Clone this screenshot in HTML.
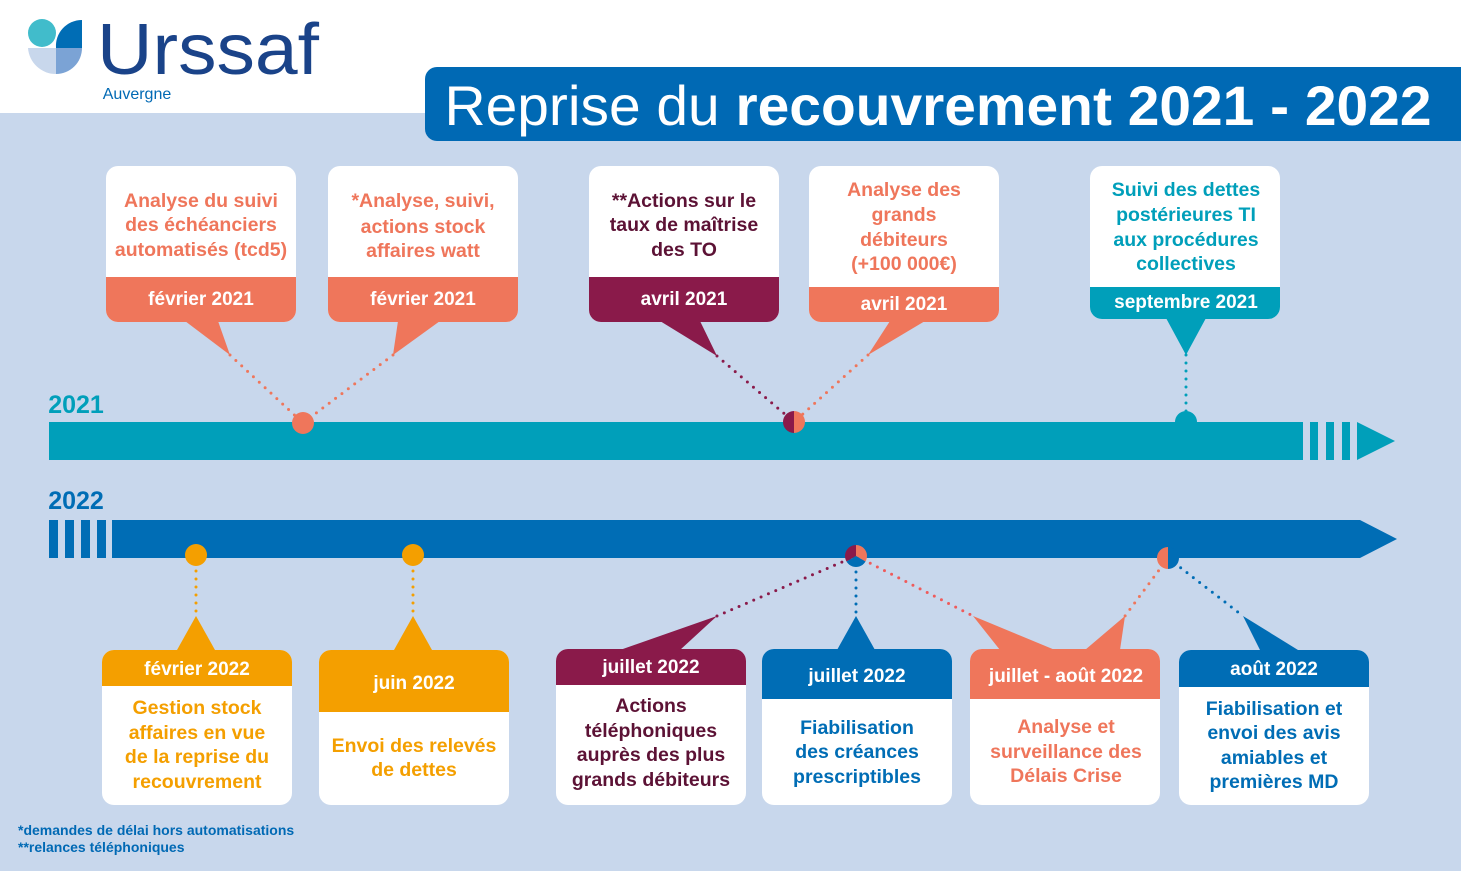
<!DOCTYPE html>
<html><head><meta charset="utf-8"><style>
html,body{margin:0;padding:0;background:#fff}
svg{display:block}
text{font-family:"Liberation Sans",Arial,sans-serif;font-weight:bold;text-anchor:middle}
</style></head><body>
<svg width="1461" height="871" viewBox="0 0 1461 871" xmlns="http://www.w3.org/2000/svg">
<rect x="0" y="0" width="1461" height="871" fill="#fff"/>
<rect x="0" y="113" width="1461" height="758" fill="#c8d7ec"/>
<!-- logo -->
<circle cx="42" cy="33" r="14" fill="#41bccb"/>
<path d="M56 48 A26 26 0 0 1 82 20 L82 48 Z" fill="#006db5"/>
<path d="M28 48 L56 48 L56 74 A28 28 0 0 1 28 48 Z" fill="#c8d7ec"/>
<path d="M56 48 L82 48 A26 26 0 0 1 56 74 Z" fill="#7ba3d5"/>
<text x="208" y="74" textLength="222" lengthAdjust="spacingAndGlyphs" style="font-weight:normal;font-size:72px;fill:#1a4389">Urssaf</text>
<text x="137" y="99" style="font-size:16px;fill:#0069b4;font-weight:normal">Auvergne</text>
<!-- banner -->
<path d="M437 67 H1461 V141 H437 A12 12 0 0 1 425 129 V79 A12 12 0 0 1 437 67 Z" fill="#0069b4"/>
<text x="938" y="125" textLength="987" lengthAdjust="spacingAndGlyphs" style="font-size:56px;fill:#fff"><tspan style="font-weight:normal">Reprise du </tspan>recouvrement 2021 - 2022</text>
<!-- years -->
<text x="76" y="413" style="font-size:25px;fill:#009fba">2021</text>
<text x="76" y="509" style="font-size:25px;fill:#006db5">2022</text>
<!-- 2021 bar -->
<rect x="49" y="422" width="1254" height="38" fill="#009fba"/>
<rect x="1310" y="422" width="8" height="38" fill="#009fba"/>
<rect x="1326" y="422" width="8" height="38" fill="#009fba"/>
<rect x="1342" y="422" width="8" height="38" fill="#009fba"/>
<polygon points="1357,422 1395,441 1357,460" fill="#009fba"/>
<circle cx="1186" cy="422" r="11" fill="#009fba"/>
<!-- 2022 bar -->
<rect x="49" y="520" width="9" height="38" fill="#006db5"/>
<rect x="65" y="520" width="9" height="38" fill="#006db5"/>
<rect x="81" y="520" width="9" height="38" fill="#006db5"/>
<rect x="97" y="520" width="9" height="38" fill="#006db5"/>
<path d="M112 520 H1360 L1397 539 L1360 558 H112 Z" fill="#006db5"/>
<!-- dotted connectors -->
<g fill="none" stroke-width="3" stroke-linecap="round" stroke-dasharray="0 8">
<line x1="230" y1="355" x2="303" y2="423" stroke="#ef765b"/>
<line x1="393" y1="355" x2="303" y2="423" stroke="#ef765b"/>
<line x1="717" y1="356" x2="794" y2="422" stroke="#8a1a4a"/>
<line x1="868" y1="355" x2="794" y2="422" stroke="#ef765b"/>
<line x1="1186" y1="355" x2="1186" y2="418" stroke="#009fba"/>
<line x1="196" y1="555" x2="196" y2="616" stroke="#f49f00"/>
<line x1="413" y1="555" x2="413" y2="616" stroke="#f49f00"/>
<line x1="717" y1="616" x2="856" y2="556" stroke="#8a1a4a"/>
<line x1="856" y1="556" x2="856" y2="616" stroke="#006db5"/>
<line x1="856" y1="556" x2="973" y2="616" stroke="#ef5b5b"/>
<line x1="1168" y1="558" x2="1125" y2="616" stroke="#ef765b"/>
<line x1="1168" y1="558" x2="1243" y2="616" stroke="#006db5"/>
</g>
<!-- dots -->
<circle cx="303" cy="423" r="11" fill="#ef765b"/>
<path d="M794 411 A11 11 0 0 0 794 433 Z" fill="#8a1a4a"/>
<path d="M794 411 A11 11 0 0 1 794 433 Z" fill="#ef765b"/>
<circle cx="196" cy="555" r="11" fill="#f49f00"/>
<circle cx="413" cy="555" r="11" fill="#f49f00"/>
<path d="M856 556 L856 545 A11 11 0 0 0 846.5 561.5 Z" fill="#8a1a4a"/>
<path d="M856 556 L856 545 A11 11 0 0 1 865.5 561.5 Z" fill="#ef765b"/>
<path d="M856 556 L846.5 561.5 A11 11 0 0 0 865.5 561.5 Z" fill="#006db5"/>
<path d="M1168 547 A11 11 0 0 0 1168 569 Z" fill="#ef765b"/>
<path d="M1168 547 A11 11 0 0 1 1168 569 Z" fill="#006db5"/>
<!-- top pointers -->
<polygon points="185,321 218,321 230,355" fill="#ef765b"/>
<polygon points="398,321 440,321 393,355" fill="#ef765b"/>
<polygon points="660,321 700,321 717,356" fill="#8a1a4a"/>
<polygon points="890,321 925,321 868,355" fill="#ef765b"/>
<polygon points="1166,318 1206,318 1186,355" fill="#009fba"/>
<!-- bottom pointers -->
<polygon points="177,650 215,650 196,616" fill="#f49f00"/>
<polygon points="394,650 432,650 413,616" fill="#f49f00"/>
<polygon points="620,650 680,650 717,616" fill="#8a1a4a"/>
<polygon points="837,650 875,650 856,616" fill="#006db5"/>
<polygon points="1000,650 1055,650 973,616" fill="#ef765b"/>
<polygon points="1085,650 1120,650 1125,616" fill="#ef765b"/>
<polygon points="1260,650 1298,650 1243,616" fill="#006db5"/>
<!-- top cards -->
<g>
<rect x="106" y="166" width="190" height="156" rx="12" fill="#fff"/>
<path d="M106 277 H296 V310 A12 12 0 0 1 284 322 H118 A12 12 0 0 1 106 310 Z" fill="#ef765b"/>
<g style="font-size:19.5px;fill:#ef765b"><text x="201" y="207">Analyse du suivi</text><text x="201" y="231">des échéanciers</text><text x="201" y="256">automatisés (tcd5)</text></g>
<text x="201" y="305" style="font-size:19px;fill:#fff">février 2021</text>

<rect x="328" y="166" width="190" height="156" rx="12" fill="#fff"/>
<path d="M328 277 H518 V310 A12 12 0 0 1 506 322 H340 A12 12 0 0 1 328 310 Z" fill="#ef765b"/>
<g style="font-size:19.5px;fill:#ef765b"><text x="423" y="207">*Analyse, suivi,</text><text x="423" y="233">actions stock</text><text x="423" y="257">affaires watt</text></g>
<text x="423" y="305" style="font-size:19px;fill:#fff">février 2021</text>

<rect x="589" y="166" width="190" height="156" rx="12" fill="#fff"/>
<path d="M589 277 H779 V310 A12 12 0 0 1 767 322 H601 A12 12 0 0 1 589 310 Z" fill="#8a1a4a"/>
<g style="font-size:19.5px;fill:#5c1235"><text x="684" y="207">**Actions sur le</text><text x="684" y="231">taux de maîtrise</text><text x="684" y="256">des TO</text></g>
<text x="684" y="305" style="font-size:19px;fill:#fff">avril 2021</text>

<rect x="809" y="166" width="190" height="156" rx="12" fill="#fff"/>
<path d="M809 287 H999 V310 A12 12 0 0 1 987 322 H821 A12 12 0 0 1 809 310 Z" fill="#ef765b"/>
<g style="font-size:19.5px;fill:#ef765b"><text x="904" y="196">Analyse des</text><text x="904" y="221">grands</text><text x="904" y="246">débiteurs</text><text x="904" y="270">(+100 000€)</text></g>
<text x="904" y="310" style="font-size:19px;fill:#fff">avril 2021</text>

<rect x="1090" y="166" width="190" height="153" rx="12" fill="#fff"/>
<path d="M1090 287 H1280 V307 A12 12 0 0 1 1268 319 H1102 A12 12 0 0 1 1090 307 Z" fill="#009fba"/>
<g style="font-size:19.5px;fill:#009fba"><text x="1186" y="196">Suivi des dettes</text><text x="1186" y="221">postérieures TI</text><text x="1186" y="246">aux procédures</text><text x="1186" y="270">collectives</text></g>
<text x="1186" y="308" style="font-size:19px;fill:#fff">septembre 2021</text>
</g>
<!-- bottom cards -->
<g>
<rect x="102" y="650" width="190" height="155" rx="12" fill="#fff"/>
<path d="M114 650 H280 A12 12 0 0 1 292 662 V686 H102 V662 A12 12 0 0 1 114 650 Z" fill="#f49f00"/>
<text x="197" y="675" style="font-size:19px;fill:#fff">février 2022</text>
<g style="font-size:19.5px;fill:#f49f00"><text x="197" y="714">Gestion stock</text><text x="197" y="739">affaires en vue</text><text x="197" y="763">de la reprise du</text><text x="197" y="788">recouvrement</text></g>

<rect x="319" y="650" width="190" height="155" rx="12" fill="#fff"/>
<path d="M331 650 H497 A12 12 0 0 1 509 662 V712 H319 V662 A12 12 0 0 1 331 650 Z" fill="#f49f00"/>
<text x="414" y="689" style="font-size:19px;fill:#fff">juin 2022</text>
<g style="font-size:19.5px;fill:#f49f00"><text x="414" y="752">Envoi des relevés</text><text x="414" y="776">de dettes</text></g>

<rect x="556" y="649" width="190" height="156" rx="12" fill="#fff"/>
<path d="M568 649 H734 A12 12 0 0 1 746 661 V685 H556 V661 A12 12 0 0 1 568 649 Z" fill="#8a1a4a"/>
<text x="651" y="673" style="font-size:19px;fill:#fff">juillet 2022</text>
<g style="font-size:19.5px;fill:#5c1235"><text x="651" y="712">Actions</text><text x="651" y="737">téléphoniques</text><text x="651" y="761">auprès des plus</text><text x="651" y="786">grands débiteurs</text></g>

<rect x="762" y="649" width="190" height="156" rx="12" fill="#fff"/>
<path d="M774 649 H940 A12 12 0 0 1 952 661 V699 H762 V661 A12 12 0 0 1 774 649 Z" fill="#006db5"/>
<text x="857" y="682" style="font-size:19px;fill:#fff">juillet 2022</text>
<g style="font-size:19.5px;fill:#006db5"><text x="857" y="734">Fiabilisation</text><text x="857" y="758">des créances</text><text x="857" y="783">prescriptibles</text></g>

<rect x="970" y="649" width="190" height="156" rx="12" fill="#fff"/>
<path d="M982 649 H1148 A12 12 0 0 1 1160 661 V699 H970 V661 A12 12 0 0 1 982 649 Z" fill="#ef765b"/>
<text x="1066" y="682" style="font-size:19px;fill:#fff">juillet - août  2022</text>
<g style="font-size:19.5px;fill:#ef765b"><text x="1066" y="733">Analyse et</text><text x="1066" y="758">surveillance des</text><text x="1066" y="782">Délais Crise</text></g>

<rect x="1179" y="650" width="190" height="155" rx="12" fill="#fff"/>
<path d="M1191 650 H1357 A12 12 0 0 1 1369 662 V687 H1179 V662 A12 12 0 0 1 1191 650 Z" fill="#006db5"/>
<text x="1274" y="675" style="font-size:19px;fill:#fff">août 2022</text>
<g style="font-size:19.5px;fill:#006db5"><text x="1274" y="715">Fiabilisation et</text><text x="1274" y="739">envoi des avis</text><text x="1274" y="764">amiables et</text><text x="1274" y="788">premières MD</text></g>
</g>
<text x="18" y="835" style="font-size:14px;fill:#0069b4;text-anchor:start">*demandes de délai hors automatisations</text>
<text x="18" y="852" style="font-size:14px;fill:#0069b4;text-anchor:start">**relances téléphoniques</text>
</svg>
</body></html>
